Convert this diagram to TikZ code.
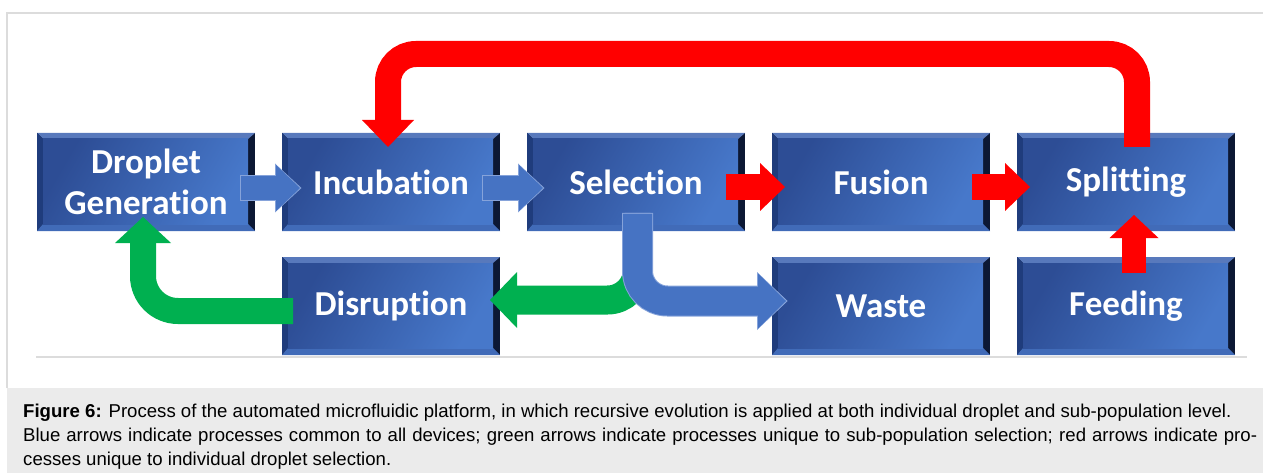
\documentclass[tikz,border=0pt]{standalone}
\usepackage{fontspec}
\usepackage{xcolor}
\usetikzlibrary{positioning,arrows.meta}

\newfontfamily\stagefamily{Carlito}[Ligatures=NoCommon]
\newfontfamily\capfamily{Liberation Sans}

\definecolor{faceDark}{HTML}{2D4D95}
\definecolor{faceLight}{HTML}{4778CA}
\definecolor{bevTop}{HTML}{5879BC}
\definecolor{bevLeft}{HTML}{1F3C7C}
\definecolor{bevRight}{HTML}{0C1834}
\definecolor{bevBottom}{HTML}{416BB8}
\definecolor{arrowblue}{HTML}{4673C3}
\definecolor{arrowrim}{HTML}{86A3DA}
\definecolor{arrowred}{HTML}{FF0000}
\definecolor{arrowgreen}{HTML}{00B050}
\definecolor{capgray}{HTML}{EBEBEB}
\definecolor{framegray}{HTML}{DCDCDC}

\tikzset{
  stage/.style = {
    minimum width=218pt, minimum height=98pt, inner sep=0pt, outer sep=0pt,
    fill=bevRight, text=white, align=center,
    font=\stagefamily\bfseries\fontsize{35}{41}\selectfont,
    path picture={
      \coordinate (nw) at (path picture bounding box.north west);
      \coordinate (ne) at (path picture bounding box.north east);
      \coordinate (sw) at (path picture bounding box.south west);
      \coordinate (se) at (path picture bounding box.south east);
      \fill[bevTop] (nw) -- (ne) -- ([shift={(-7pt,-6pt)}]ne) -- ([shift={(6pt,-6pt)}]nw) -- cycle;
      \fill[bevLeft] (nw) -- ([shift={(6pt,-6pt)}]nw) -- ([shift={(6pt,7pt)}]sw) -- (sw) -- cycle;
      \fill[bevBottom] (sw) -- ([shift={(6pt,7pt)}]sw) -- ([shift={(-7pt,7pt)}]se) -- (se) -- cycle;
      \shade[left color=faceDark, right color=faceLight, shading angle=60]
        ([shift={(6pt,-6pt)}]nw) rectangle ([shift={(-7pt,7pt)}]se);
    }},
  % light rim under the blue arrows
  rim/.style n args={3}{preaction={draw=arrowrim, line width=#1, shorten <=-1pt, shorten >=-1.5pt,
    -{Triangle[width=#2,length=#3,line width=0pt]}}}
}

\begin{document}
\begin{tikzpicture}[
    node distance = 26pt and 27pt,
    bluearrow/.style = {draw=arrowblue, line width=24pt, -{Triangle[width=46pt,length=24pt,line width=0pt]},
                        rim={26pt}{49pt}{26.5pt}},
    redarrow/.style = {draw=arrowred, line width=26pt, -{Triangle[width=48pt,length=25pt,line width=0pt]}},
    greenarrow/.style = {draw=arrowgreen, line width=26pt, -{Triangle[width=56pt,length=26pt,line width=0pt]}}]
    \useasboundingbox (0,0) rectangle (1263pt,-473pt);
    % frame and caption
    \fill[capgray] (7pt,-388pt) rectangle (1263pt,-473pt);
    \draw[framegray, line width=1.2pt] (7pt,-388pt) -- (7pt,-13pt) -- (1263pt,-13pt);
    \draw[framegray, line width=2pt] (36pt,-357pt) -- (1247pt,-357pt);

    % NODES
    % top row
    \node[stage] (drop) at (146pt,-182pt) {Droplet\\Generation};
    \node[stage, right = of drop] (incub) {Incubation};
    \node[stage, right = of incub] (select) {Selection};
    \node[stage, right = of select] (fusion) {Fusion};
    \node[stage, right = of fusion] (split) {Splitting};
    % bottom row
    \node[stage, below = of incub] (disrupt) {Disruption};
    \node[stage, below = of fusion] (waste) {Waste};
    \node[stage, below = of split] (feed) {Feeding};
    % caption node
    \node[anchor=north west, inner sep=0pt, text width=1234pt, align=justify,
          font=\capfamily\fontsize{18.6}{24}\selectfont] (cap) at (23pt,-403.5pt)
      {\textbf{Figure 6:} Process of the automated microfluidic platform, in which recursive evolution is applied at both individual droplet and sub-population level.\\
       Blue arrows indicate processes common to all devices; green arrows indicate processes unique to sub-population selection; red arrows indicate pro-\linebreak cesses unique to individual droplet selection.};

    % ARROWS
    \draw[bluearrow] ([xshift=-14pt,yshift=-6pt]drop.east) -- ([xshift=18pt,yshift=-6pt]incub.west);
    \draw[bluearrow] ([xshift=-17pt,yshift=-6pt]incub.east) -- ([xshift=16pt,yshift=-6pt]select.west);
    \draw[redarrow] ([xshift=-19pt,yshift=-5pt]select.east) -- ([xshift=13pt,yshift=-5pt]fusion.west);
    \draw[redarrow] ([xshift=-18pt,yshift=-5pt]fusion.east) -- ([xshift=13pt,yshift=-5pt]split.west);
    \draw[redarrow, line width=24pt, -{Triangle[width=49pt,length=23pt,line width=0pt]}]
      ([xshift=8pt,yshift=-16pt]feed.north) -- ([xshift=8pt,yshift=16pt]split.south);
    % loop back to incubation
    \coordinate (loop) at (0,-54pt);
    \draw[redarrow, rounded corners=28pt, -{Triangle[width=52pt,length=27pt,line width=0pt]}]
      ([xshift=11pt,yshift=-14pt]split.north) -- ([xshift=11pt]split.north |- loop)
      -| ([xshift=-3pt,yshift=-14pt]incub.north);
    % back to droplet generation
    \draw[greenarrow, rounded corners=35pt]
      ([xshift=11pt,yshift=-5pt]disrupt.west) -| ([xshift=-3pt,yshift=14pt]drop.south);
    % selection split
    \draw[greenarrow, line width=29pt, rounded corners=30pt, -{Triangle[width=56pt,length=27pt,line width=0pt]}]
      ([xshift=1.5pt,yshift=17pt]select.south) |- ([xshift=-10pt,yshift=6pt]disrupt.east);
    \draw[bluearrow, line width=29pt, rounded corners=30pt, -{Triangle[width=55pt,length=28pt,line width=0pt]},
          rim={31pt}{58pt}{30.5pt}]
      ([xshift=1.5pt,yshift=17pt]select.south) |- ([xshift=14pt,yshift=5pt]waste.west);
\end{tikzpicture}
\end{document}
